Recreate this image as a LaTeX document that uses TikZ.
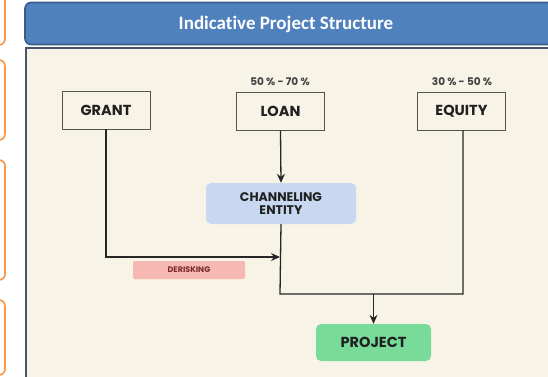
\documentclass[tikz,border=0pt]{standalone}
\usepackage{fontspec}
\setmainfont{Poppins}
\newfontfamily\titlefont[Ligatures=NoCommon]{Carlito}
\usetikzlibrary{arrows.meta}
\definecolor{orangeb}{HTML}{F79646}
\definecolor{titlefill}{HTML}{4F81BD}
\definecolor{titleline}{HTML}{385D8A}
\definecolor{panelfill}{HTML}{F8F3E7}
\definecolor{panelline}{HTML}{4A5468}
\definecolor{boxline}{HTML}{55554C}
\definecolor{chanfill}{HTML}{C8D8F0}
\definecolor{projfill}{HTML}{78DB9A}
\definecolor{derfill}{HTML}{F6B8B2}
\definecolor{dertext}{HTML}{7A2A2A}
\definecolor{txt}{HTML}{202020}
\tikzset{
  x=1pt,y=-1pt,
  sidebox/.style={draw=orangeb,line width=1.6pt,rounded corners=6pt},
  srcbox/.style={draw=boxline,line width=0.9pt,fill=panelfill,minimum width=88pt,minimum height=38pt,inner sep=0pt,font=\fontsize{14.5}{16}\selectfont\bfseries,text=txt},
  pct/.style={font=\fontsize{10.5}{12}\selectfont\bfseries,text=txt!85,inner sep=0pt},
  conn/.style={draw=black!85,line width=1.3pt},
  arr/.style={conn,-{Stealth[length=9pt,width=8pt,inset=3pt]}},
}
\begin{document}
\begin{tikzpicture}
\useasboundingbox (0,0) rectangle (548,376);
\begin{scope}
\clip (0,0) rectangle (548,376);
\fill[white] (0,0) rectangle (548,376);
% left orange boxes
\draw[sidebox] (-30,-10) rectangle (5,45);
\draw[sidebox] (-30,60) rectangle (5,140);
\draw[sidebox] (-30,160) rectangle (5,280);
\draw[sidebox] (-30,300) rectangle (5,375);
% title bar
\node[draw=titleline,line width=1.6pt,fill=titlefill,rounded corners=6pt,minimum width=530pt,minimum height=42pt,inner sep=0pt] (title) at (290,23.5) {};
\node[text=white,font=\titlefont\fontsize{19}{21}\selectfont\bfseries] (titletext) at (286,24) {Indicative Project Structure};
% panel
\draw[draw=panelline,line width=1.2pt,fill=panelfill] (26,48) rectangle (560,390);
\end{scope}
% nodes
\node[srcbox] (grant) at (106,110) {GRANT};
\node[srcbox] (loan) at (280.5,111) {LOAN};
\node[srcbox] (equity) at (461.5,111) {EQUITY};
\node[pct] (pl) at (280,82) {50 \% - 70 \%};
\node[pct] (pe) at (462,82) {30 \% - 50 \%};
\node[fill=chanfill,rounded corners=5pt,minimum width=150pt,minimum height=41pt,inner sep=0pt,align=center,font=\fontsize{12.5}{13}\selectfont\bfseries,text=txt] (chan) at (281,203.5) {CHANNELING\\ENTITY};
\node[fill=projfill,rounded corners=5pt,minimum width=115pt,minimum height=37pt,inner sep=0pt,font=\fontsize{14.5}{16}\selectfont\bfseries,text=txt] (proj) at (373.5,342.5) {PROJECT};
\node[fill=derfill,rounded corners=2pt,minimum width=112pt,minimum height=18pt,inner sep=0pt,font=\fontsize{8}{9}\selectfont\bfseries,text=dertext] (der) at (189,270) {DERISKING};
% connectors
\coordinate (gturn) at (106,257);
\coordinate (gend) at (280,257);
\coordinate (jl) at (280,294);
\coordinate (jr) at (463,294);
\coordinate (jm) at (373.5,294);
\draw[arr] (loan.south) -- (chan.north);
\draw[arr] (grant.south) -- (gturn) -- (gend);
\draw[conn] (chan.south) -- (jl) -- (jr) -- (equity.south -| jr);
\draw[arr] (jm) -- (proj.north);
\end{tikzpicture}
\end{document}
